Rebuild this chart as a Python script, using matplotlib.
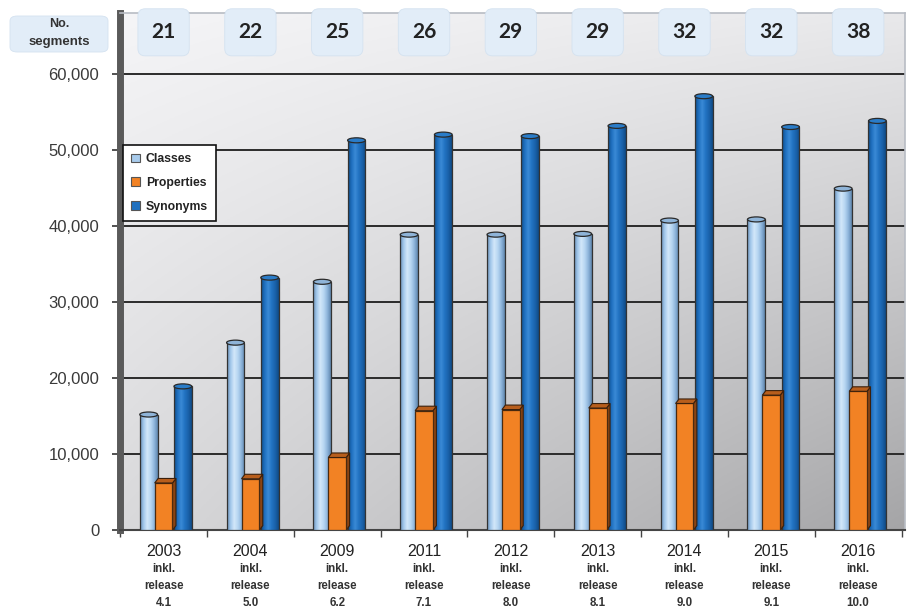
import numpy as np
import matplotlib
matplotlib.use("Agg")
import matplotlib.pyplot as plt
from matplotlib.colors import LinearSegmentedColormap
from matplotlib.patches import Ellipse, Polygon, Patch, FancyBboxPatch
from matplotlib.transforms import blended_transform_factory

# ---------------- data ----------------
years = ["2003", "2004", "2009", "2011", "2012", "2013", "2014", "2015", "2016"]
releases = ["4.1", "5.0", "6.2", "7.1", "8.0", "8.1", "9.0", "9.1", "10.0"]
segments = [21, 22, 25, 26, 29, 29, 32, 32, 38]
classes = [15200, 24650, 32650, 38850, 38850, 38950, 40700, 40850, 44900]
properties = [6200, 6750, 9550, 15700, 15850, 16050, 16650, 17750, 18250]
synonyms = [18900, 33200, 51250, 52000, 51800, 53150, 57050, 53000, 53800]
yticks = [0, 10000, 20000, 30000, 40000, 50000, 60000]
series_names = ["Classes", "Properties", "Synonyms"]

plt.rcParams['font.family'] = ['Liberation Sans', 'DejaVu Sans']

fig = plt.figure(figsize=(9.07, 6.15), dpi=100)
fig.patch.set_facecolor("white")
ax = fig.add_axes([0.1325, 0.138, 0.865, 0.841])

x = np.arange(len(years))
XMIN, XMAX = -0.434, 8.537
YMAX = 68000

# ---------- background gradient (3D wall) ----------
gy, gx = np.mgrid[0:1:200j, 0:1:300j]   # gy: 0 top -> 1 bottom
bright = 245 - 28 * gy - 40 * gy * gx - 12 * gx
bg = np.dstack([bright, bright, bright + 2]) / 255.0
bg = np.clip(bg, 0, 1)
ax.imshow(bg, extent=[0, 1, 0, 1], transform=ax.transAxes, aspect='auto', zorder=0)

# gridlines
for t in yticks[1:]:
    ax.axhline(t, color="#2b2b2b", lw=1.4, zorder=1)

w = 0.205
offs = [-0.172, 0.0, 0.222]

cyl_classes = LinearSegmentedColormap.from_list(
    "cc", ["#6a90b6", "#a3c8ec", "#d2e7f9", "#b8d7f2", "#8fb6dc", "#6087ae"])
cyl_syn = LinearSegmentedColormap.from_list(
    "cs", ["#0f4d8c", "#1f70bf", "#3a8ad6", "#2273c2", "#1a62aa", "#0f4a85"])
grad = np.linspace(0, 1, 64).reshape(1, -1)

ppy = 7.58 / 1000.0  # pixels per unit (approx) for 3d decorations
ell_h = 5.0 / ppy

def cylinders(vals, off, cmap, top_fc, z):
    bars = ax.bar(x + off, vals, width=w, color="none", edgecolor="#333333",
                  lw=0.9, zorder=z)
    for b, v in zip(bars, vals):
        x0 = b.get_x()
        im = ax.imshow(grad, extent=[x0, x0 + w, 0, v], cmap=cmap,
                       aspect='auto', zorder=z - 0.1)
        im.set_clip_path(b)
        ax.add_patch(Ellipse((x0 + w / 2, v), w, ell_h, facecolor=top_fc,
                             edgecolor="#2a2a2a", lw=0.9, zorder=z + 0.05))
    return bars

cylinders(classes, offs[0], cyl_classes, "#8fb4d8", 3)

# properties: 3D boxes
d = 3.5 / 87.5
dz = 4.5 / ppy
pb = ax.bar(x + offs[1], properties, width=w, color="#f28224",
            edgecolor="#4a2a10", lw=0.9, zorder=4)
for b, v in zip(pb, properties):
    x0 = b.get_x(); x1 = x0 + w
    ax.add_patch(Polygon([(x1, 0), (x1, v), (x1 + d, v + dz), (x1 + d, dz)],
                         closed=True, facecolor="#8a4413", edgecolor="#3a200c",
                         lw=0.8, zorder=3.9))
    ax.add_patch(Polygon([(x0, v), (x0 + d, v + dz), (x1 + d, v + dz), (x1, v)],
                         closed=True, facecolor="#b85e1c", edgecolor="#3a200c",
                         lw=0.8, zorder=4.1))

cylinders(synonyms, offs[2], cyl_syn, "#2a7cc8", 3)

ax.set_xlim(XMIN, XMAX)
ax.set_ylim(0, YMAX)

# axes styling
ax.set_yticks(yticks)
ax.set_yticklabels([f"{t:,}" for t in yticks], fontsize=12, color="#3a3a3a")
ax.tick_params(axis='y', length=6, width=1.2, color="#333333", pad=9)
ax.set_xticks(np.arange(len(years) + 1) - 0.5)
ax.set_xticklabels([])
ax.tick_params(axis='x', length=5, width=1.0, color="#444444", direction='out')
for s in ["top", "right"]:
    ax.spines[s].set_color("#b8bcc4")
    ax.spines[s].set_linewidth(1.2)
ax.spines["left"].set_color("#5a5a5a")
ax.spines["left"].set_linewidth(5)
ax.spines["bottom"].set_color("#444444")
ax.spines["bottom"].set_linewidth(1.5)

# x labels
tr = blended_transform_factory(ax.transData, ax.transAxes)
for xi, yr, rel in zip(x, years, releases):
    ax.text(xi, -0.041, yr, transform=tr, ha='center', va='center',
            fontsize=11.5, color="#222222")
    ax.text(xi, -0.076, "inkl.", transform=tr, ha='center', va='center',
            fontsize=8.3, fontweight='bold', color="#333333")
    ax.text(xi, -0.108, "release", transform=tr, ha='center', va='center',
            fontsize=8.3, fontweight='bold', color="#333333")
    ax.text(xi, -0.141, rel, transform=tr, ha='center', va='center',
            fontsize=8.3, fontweight='bold', color="#333333")

# segment boxes
for xi, n in zip(x, segments):
    ax.text(xi, 0.9625, str(n), transform=tr, ha='center', va='center',
            fontsize=15, fontweight='bold', family=['Lato', 'DejaVu Sans'],
            color="#222222", zorder=6,
            bbox=dict(boxstyle="round,pad=0.65,rounding_size=0.35",
                      fc="#e2edf8", ec="#d4e2f0", lw=0.6))

fig.patches.append(FancyBboxPatch((10 / 907, 1 - 52 / 615), 98 / 907, 36 / 615,
                                  boxstyle="round,pad=0.0,rounding_size=0.008",
                                  transform=fig.transFigure, fc="#e2edf8",
                                  ec="#d4e2f0", lw=0.6))
fig.text(59 / 907, 1 - 24 / 615, "No.", ha='center', va='center', fontsize=9,
         fontweight='bold', color="#333333")
fig.text(59 / 907, 1 - 42 / 615, "segments", ha='center', va='center', fontsize=9.5,
         fontweight='bold', color="#333333")

# legend
handles = [Patch(facecolor="#a8cbec", edgecolor="#555555", lw=0.8),
           Patch(facecolor="#f28224", edgecolor="#555555", lw=0.8),
           Patch(facecolor="#1f70bf", edgecolor="#555555", lw=0.8)]
leg = ax.legend(handles, series_names, loc='upper left',
                bbox_to_anchor=(0.003, 0.745), frameon=True, fancybox=False,
                edgecolor="#111111", framealpha=1, facecolor="white",
                prop=dict(weight='bold', size=8.8), labelspacing=0.95,
                handlelength=0.7, handleheight=0.7, handletextpad=0.5,
                borderpad=0.7, borderaxespad=0)
leg.get_frame().set_linewidth(1.2)
leg.set_zorder(7)
for t in leg.get_texts():
    t.set_color("#222222")

fig.savefig("out.png", dpi=100)
